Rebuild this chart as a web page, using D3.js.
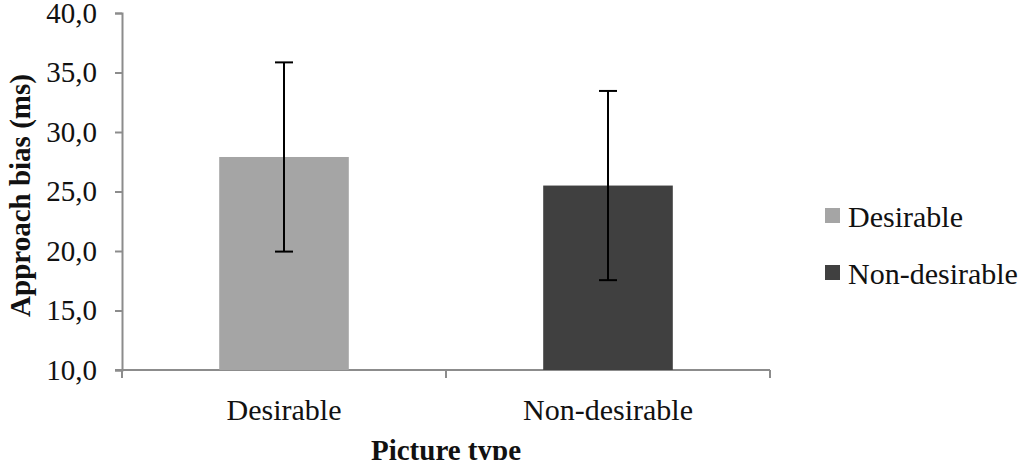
<!DOCTYPE html>
<html>
<head>
<meta charset="utf-8">
<script src="https://cdn.jsdelivr.net/npm/d3@7"></script>
<style>
  body { margin: 0; background: #fff; }
  svg text { font-family: "Liberation Serif", Tinos, "Times New Roman", Times, "DejaVu Serif", serif !important; }
</style>
</head>
<body>
<div id="viz"></div>
<script>
var categories = ["Desirable", "Non-desirable"]
var means = [27.9, 25.5]
var errors = [7.95, 7.95]
var colours = ["#a5a5a5", "#404040"]
var y_ticks = [10, 15, 20, 25, 30, 35, 40]

var width = 1026
var height = 460
var axis_colour = "#8c8c8c"
var font_size = 29
var label_size = 30
var serif = "'Liberation Serif', Tinos, 'Times New Roman', Times, 'DejaVu Serif', serif"

var svg = d3.select("#viz")
  .append("svg")
  .attr("width", width)
  .attr("height", height)
  .attr("font-family", serif);

var x = d3.scaleBand()
  .domain(categories)
  .range([122, 770])
  .paddingInner(0.6)
  .paddingOuter(0.3);

var y = d3.scaleLinear()
  .domain([10, 40])
  .range([370, 13]);

// y axis
var yAxis = svg.append("g")
  .attr("transform", "translate(122,0)")
  .call(d3.axisLeft(y).tickValues(y_ticks).tickSize(7).tickPadding(18)
    .tickFormat(function(d) { return d3.format(".1f")(d).replace(".", ","); }));
yAxis.attr("font-family", serif);
yAxis.select(".domain").attr("stroke", axis_colour).attr("stroke-width", 2);
yAxis.selectAll(".tick line").attr("stroke", axis_colour).attr("stroke-width", 2);
yAxis.selectAll(".tick text")
  .attr("font-size", font_size)
  .attr("fill", "#111");

// x axis line and ticks at band edges
svg.append("line")
  .attr("x1", 115).attr("x2", 770)
  .attr("y1", y(10)).attr("y2", y(10))
  .attr("stroke", axis_colour).attr("stroke-width", 2);

var edges = d3.range(categories.length + 1).map(function(i) { return x.range()[0] + i * x.step(); });
svg.selectAll(".xtick")
  .data(edges)
  .enter().append("line")
  .attr("class", "xtick")
  .attr("x1", function(d) { return d; })
  .attr("x2", function(d) { return d; })
  .attr("y1", y(10)).attr("y2", y(10) + 8)
  .attr("stroke", axis_colour).attr("stroke-width", 2);

svg.selectAll(".xlabel")
  .data(categories)
  .enter().append("text")
  .attr("class", "xlabel")
  .attr("x", function(d) { return x(d) + x.bandwidth() / 2; })
  .attr("y", 420)
  .attr("text-anchor", "middle")
  .attr("font-size", label_size)
  .attr("fill", "#111")
  .text(function(d) { return d; });

// bars
svg.selectAll(".bar")
  .data(categories)
  .enter().append("rect")
  .attr("class", "bar")
  .attr("x", function(d) { return x(d); })
  .attr("width", x.bandwidth())
  .attr("y", function(d, i) { return y(means[i]); })
  .attr("height", function(d, i) { return y(10) - y(means[i]); })
  .attr("fill", function(d, i) { return colours[i]; });

// error bars
categories.forEach(function(c, i) {
  var cx = x(c) + x.bandwidth() / 2;
  var g = svg.append("g").attr("stroke", "#000").attr("stroke-width", 2);
  g.append("line")
    .attr("x1", cx).attr("x2", cx)
    .attr("y1", y(means[i] + errors[i])).attr("y2", y(means[i] - errors[i]));
  g.append("line")
    .attr("x1", cx - 9).attr("x2", cx + 9)
    .attr("y1", y(means[i] + errors[i])).attr("y2", y(means[i] + errors[i]));
  g.append("line")
    .attr("x1", cx - 9).attr("x2", cx + 9)
    .attr("y1", y(means[i] - errors[i])).attr("y2", y(means[i] - errors[i]));
});

// axis titles
svg.append("text")
  .attr("transform", "translate(30," + ((y(10) + y(40)) / 2 + 4) + ") rotate(-90)")
  .attr("text-anchor", "middle")
  .attr("font-size", font_size)
  .attr("font-weight", "bold")
  .attr("fill", "#111")
  .text("Approach bias (ms)");

svg.append("text")
  .attr("x", 446)
  .attr("y", 460)
  .attr("text-anchor", "middle")
  .attr("font-size", font_size)
  .attr("font-weight", "bold")
  .attr("fill", "#111")
  .text("Picture type");

// legend
var legend = svg.selectAll(".legend")
  .data(categories)
  .enter().append("g")
  .attr("class", "legend")
  .attr("transform", function(d, i) { return "translate(825," + (208 + i * 57) + ")"; });

legend.append("rect")
  .attr("width", 15).attr("height", 15)
  .attr("fill", function(d, i) { return colours[i]; });

legend.append("text")
  .attr("x", 23)
  .attr("y", 19)
  .attr("font-size", label_size)
  .attr("fill", "#111")
  .text(function(d) { return d; });
</script>
</body>
</html>
